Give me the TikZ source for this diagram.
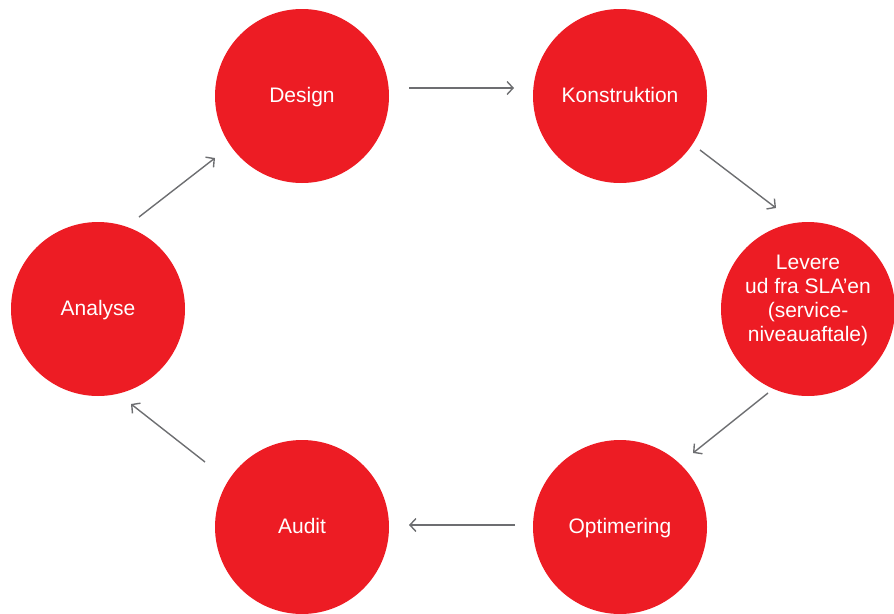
\documentclass[tikz,border=0pt]{standalone}
\usepackage{fontspec}
\setmainfont{Liberation Sans}
\usetikzlibrary{arrows.meta}
\definecolor{cred}{HTML}{ED1C24}
\definecolor{cgray}{HTML}{6D6E71}
\begin{document}
\begin{tikzpicture}[x=1pt,y=-1pt,
  stage/.style={circle,fill=cred,draw=none,minimum size=174pt,inner sep=0pt,
    text=white,font=\fontsize{21}{24}\selectfont,align=center},
  lbl/.style={text=white,font=\fontsize{21}{24}\selectfont,text height=15pt,text depth=4pt,inner sep=0pt},
  flow/.style={draw=cgray,line width=1.4pt,-{Straight Barb[length=6pt,width=13pt,line width=1.4pt]}}]
\useasboundingbox (0,0) rectangle (894,613);
\node[stage] (des) at (302,96) {};
\node[lbl] (dest) at (302,97) {Design};
\node[stage] (kon) at (620,96) {};
\node[lbl] (kont) at (620,97) {Konstruktion};
\node[stage] (lev) at (808,309) {};
\node[font=\fontsize{21}{24}\selectfont,text=white,align=center] (levt) at (808,300) {Levere\\ud fra SLA’en\\(service-\\niveauaftale)};
\node[stage] (opt) at (620,527) {};
\node[lbl] (optt) at (620,528) {Optimering};
\node[stage] (aud) at (302,527) {};
\node[lbl] (audt) at (302,528) {Audit};
\node[stage] (ana) at (98,309) {};
\node[lbl] (anat) at (98,310) {Analyse};
\coordinate (a1) at (409,88); \coordinate (b1) at (514,88);
\coordinate (a2) at (700,150); \coordinate (b2) at (776,208);
\coordinate (a3) at (768,393); \coordinate (b3) at (693,453);
\coordinate (a4) at (515,525); \coordinate (b4) at (409,525);
\coordinate (a5) at (205,462); \coordinate (b5) at (131,404);
\coordinate (a6) at (139,217); \coordinate (b6) at (215,158);
\draw[flow] (a1) -- (b1);
\draw[flow] (a2) -- (b2);
\draw[flow] (a3) -- (b3);
\draw[flow] (a4) -- (b4);
\draw[flow] (a5) -- (b5);
\draw[flow] (a6) -- (b6);
\end{tikzpicture}
\end{document}
